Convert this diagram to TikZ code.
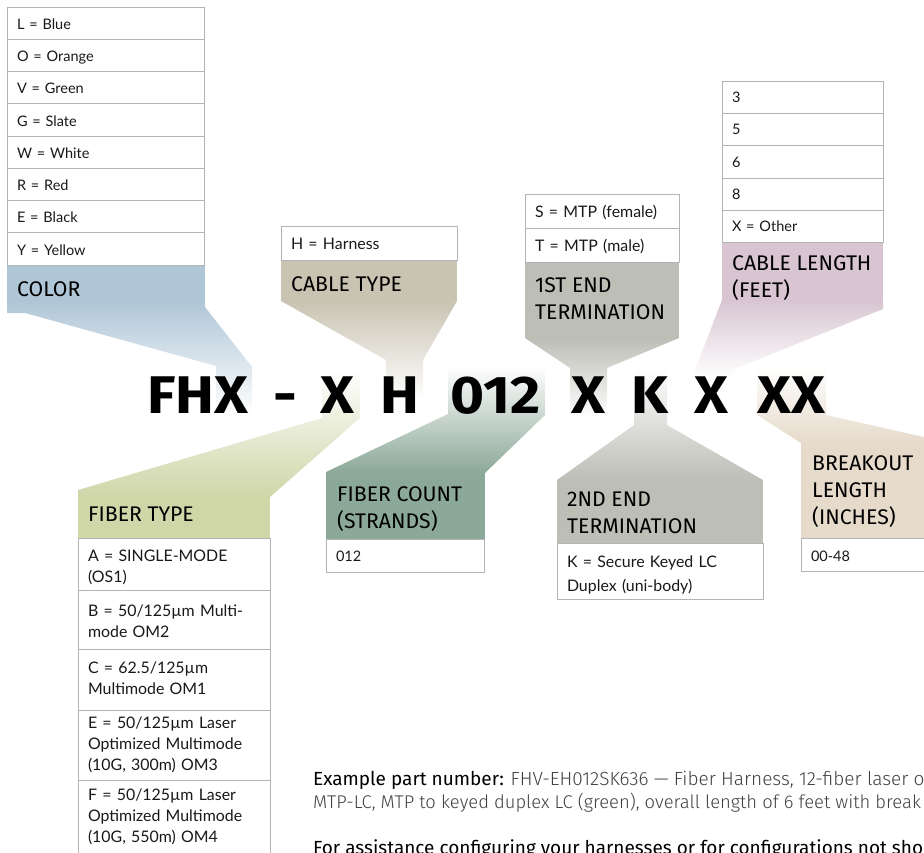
\documentclass[tikz,border=0pt]{standalone}
\usepackage{fontspec}
\setmainfont{Lato}
\newfontfamily\headf{Fira Sans}
\newfontfamily\codef{Fira Sans}[UprightFont={* Bold},FakeStretch=1.1]
\newfontfamily\lightf{Fira Sans Light}
\definecolor{cblue}{HTML}{AFC6D6}
\definecolor{ctan}{HTML}{C9C3B2}
\definecolor{cgrey}{HTML}{BDBEB6}
\definecolor{cmauve}{HTML}{D8C5D1}
\definecolor{colive}{HTML}{CFD6A8}
\definecolor{cgreen}{HTML}{8CA898}
\definecolor{cbeige}{HTML}{E6DACA}
\definecolor{cline}{HTML}{B4B4B4}
\newcommand{\tdownval}{2}
\tikzset{
 tdown/.code={\renewcommand{\tdownval}{#1}},
 cell/.style={draw=cline,line width=1pt,fill=white,anchor=north west,outer sep=0pt,inner xsep=10pt,inner ysep=0pt,align=left,text=black!90,font=\fontsize{15.9}{21}\selectfont},
 smallcell/.style={cell,font=\fontsize{14.5}{21}\selectfont},
 head/.style={anchor=west,inner sep=0pt,align=left,text=black,font=\headf\fontsize{21.2}{27}\selectfont},
 code/.style={anchor=base,inner sep=0pt,text=black,font=\codef\fontsize{53}{53}\selectfont},
 para/.style={anchor=base west,inner sep=0pt},
}
\newcommand{\cellstrut}{\rule[\dimexpr-6.3pt+\tdownval pt\relax]{0pt}{21pt}}
\newcommand{\tcell}[7][]{\node[cell,#1,text width={(#5-#3-20)*1pt},minimum height={(#6-#4)*1pt}] (#2) at (#3,#4) {\cellstrut #7\cellstrut};}
\begin{document}
\begin{tikzpicture}[x=1pt,y=-1pt]
\useasboundingbox (0,0) rectangle (924,852);
\clip (0,0) rectangle (924,852);
% colour funnels
\fill[cblue] (7,265) rectangle (205,300);
\shade[top color=cblue,bottom color=white] (7,300)--(205,300)--(205,307)--(252,367)--(252,415)--(216,415)--(216,366)--(25,313)--(7,313)--cycle;
\fill[ctan] (281,260) rectangle (457,301);
\shade[top color=ctan,bottom color=white] (281,301)--(457,301)--(423,360)--(423,400)--(386,400)--(386,360)--cycle;
\fill[cgrey] (525,262) rectangle (679,338);
\shade[top color=cgrey,bottom color=white] (525,338)--(679,338)--(607,368)--(607,418)--(570,418)--(570,368)--cycle;
\fill[cmauve] (722,242) rectangle (883,300);
\shade[top color=cmauve,bottom color=white] (722,300)--(883,300)--(883,309)--(732,370)--(732,378)--(695,378)--(695,370)--cycle;
\fill[colive] (78,497) rectangle (270,538);
\shade[top color=white,bottom color=colive] (322,370)--(360,370)--(360,418)--(270,497)--(78,497)--(78,490)--(322,418)--cycle;
\fill[cgreen] (326,473) rectangle (485,539);
\shade[top color=white,bottom color=cgreen] (448,366)--(545,366)--(545,415)--(485,473)--(326,473)--(326,472)--(448,414)--cycle;
\fill[cgrey] (557,480) rectangle (763,543);
\shade[top color=white,bottom color=cgrey] (634,368)--(667,368)--(667,425)--(763,480)--(557,480)--(634,425)--cycle;
\fill[cbeige] (801,443) rectangle (924,538);
\shade[top color=white,bottom color=cbeige] (757,366)--(826,366)--(826,415)--(924,437)--(924,443)--(801,443)--(757,415)--cycle;
% tables
\tcell[smallcell,tdown=2.5]{l}{7}{7}{204}{39}{L = Blue}
\tcell[smallcell,tdown=2.5]{o}{7}{39}{204}{71}{O = Orange}
\tcell[smallcell,tdown=2.5]{v}{7}{71}{204}{103}{V = Green}
\tcell[smallcell,tdown=2.5]{g}{7}{103}{204}{136}{G = Slate}
\tcell[smallcell,tdown=2.5]{w}{7}{136}{204}{168}{W = White}
\tcell[smallcell,tdown=2.5]{r}{7}{168}{204}{200}{R = Red}
\tcell[smallcell,tdown=2.5]{e}{7}{200}{204}{232}{E = Black}
\tcell[smallcell,tdown=2.5]{y}{7}{232}{204}{265}{Y = Yellow}
\tcell[tdown=2.5]{hh}{281}{226}{457}{260}{H = Harness}
\tcell[tdown=2]{s}{525}{194}{679}{228}{S = MTP (female)}
\tcell[tdown=2]{t}{525}{228}{679}{262}{T = MTP (male)}
\tcell[smallcell,tdown=1.5]{l3}{722}{81}{883}{113}{3}
\tcell[smallcell,tdown=1.5]{l5}{722}{113}{883}{145}{5}
\tcell[smallcell,tdown=1.5]{l6}{722}{145}{883}{178}{6}
\tcell[smallcell,tdown=1.5]{l8}{722}{178}{883}{210}{8}
\tcell[smallcell,tdown=1.5]{lx}{722}{210}{883}{242}{X = Other}
\tcell[tdown=4]{fa}{78}{538}{270}{590}{A = SINGLE-MODE\\(OS1)}
\tcell[tdown=3]{fb}{78}{590}{270}{649}{B = 50/125µm Multi-\\mode OM2}
\tcell[tdown=0]{fc}{78}{649}{270}{710}{C = 62.5/125µm\\Multimode OM1}
\tcell[tdown=0]{fe}{78}{710}{270}{780}{E = 50/125µm Laser\\Optimized Multimode\\(10G, 300m) OM3}
\tcell[tdown=1]{ff}{78}{780}{270}{853}{F = 50/125µm Laser\\Optimized Multimode\\(10G, 550m) OM4}
\tcell[smallcell,tdown=2]{cnt}{326}{539}{484}{572}{012}
\tcell[tdown=5]{k}{557}{543}{763}{599}{K = Secure Keyed LC\\Duplex (uni-body)}
\tcell[smallcell,tdown=3]{brk}{801}{538}{930}{571}{00-48}
% headings
\node[head] (hcolor) at (17,289) {COLOR};
\node[head] (hcable) at (291,284) {CABLE TYPE};
\node[head] (hfirst) at (535,298.5) {1ST END\\TERMINATION};
\node[head] (hlen) at (732,278) {CABLE LENGTH\\(FEET)};
\node[head] (hfiber) at (88,514) {FIBER TYPE};
\node[head] (hcount) at (337,509.5) {FIBER COUNT\\(STRANDS)};
\node[head] (hsecond) at (567,513) {2ND END\\TERMINATION};
\node[head] (hbreak) at (812,491.5) {BREAKOUT\\LENGTH\\(INCHES)};
% part number
\node[code] (c1) at (198,413) {FHX};
\node[code] (c2) at (285,413) {-};
\node[code] (c3) at (337,413) {X};
\node[code] (c4) at (400,413) {H};
\node[code] (c5) at (496,413) {012};
\node[code] (c6) at (588,413) {X};
\node[code] (c7) at (650,413) {K};
\node[code] (c8) at (711,413) {X};
\node[code] (c9) at (791,413) {XX};
% note
\node[para,font=\fontsize{19}{23}\selectfont] (n1) at (313,785) {\headf Example part number: {\lightf\color{black!75}FHV-EH012SK636 — Fiber Harness, 12-fiber laser o}};
\node[para,font=\fontsize{18.4}{23}\selectfont] (n2) at (313,808) {\lightf\color{black!75}MTP-LC, MTP to keyed duplex LC (green), overall length of 6 feet with break};
\node[para,font=\fontsize{19}{23}\selectfont] (n3) at (313,854) {\headf For assistance configuring your harnesses or for configurations not sho};
\end{tikzpicture}
\end{document}
